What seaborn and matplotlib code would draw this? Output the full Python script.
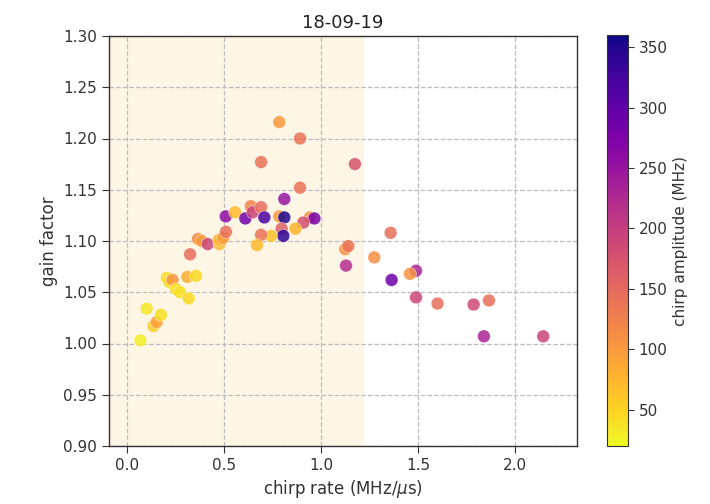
import numpy as np
import pandas as pd
import matplotlib
matplotlib.use("Agg")
import matplotlib.pyplot as plt
import seaborn as sns
from matplotlib.colors import Normalize
from matplotlib.cm import ScalarMappable

# chirp rate (MHz/us), measured gain factor, chirp amplitude (MHz)
chirp_rate = [0.069, 0.101, 0.136, 0.153, 0.175, 0.205, 0.218, 0.235, 0.253, 0.273,
              0.311, 0.318, 0.356, 0.325, 0.366, 0.385, 0.416, 0.476, 0.474, 0.496,
              0.510, 0.509, 0.557, 0.610, 0.638, 0.648, 0.691, 0.708, 0.785, 0.811,
              0.811, 0.943, 0.966, 0.909, 0.868, 0.797, 0.806, 0.742, 0.691, 0.670,
              0.785, 0.892, 0.691, 1.175, 0.892, 1.125, 1.141, 1.129, 1.275, 1.359,
              1.490, 1.459, 1.364, 1.490, 1.601, 1.787, 1.866, 1.840, 2.146]
gain_factor = [1.003, 1.034, 1.017, 1.021, 1.028, 1.064, 1.060, 1.062, 1.053, 1.050,
               1.065, 1.044, 1.066, 1.087, 1.102, 1.100, 1.097, 1.097, 1.101, 1.103,
               1.109, 1.124, 1.128, 1.122, 1.134, 1.128, 1.133, 1.123, 1.124, 1.123,
               1.141, 1.123, 1.122, 1.118, 1.112, 1.112, 1.105, 1.105, 1.106, 1.096,
               1.216, 1.200, 1.177, 1.175, 1.152, 1.092, 1.095, 1.076, 1.084, 1.108,
               1.071, 1.068, 1.062, 1.045, 1.039, 1.038, 1.042, 1.007, 1.007]
chirp_amplitude = [30, 35, 55, 95, 40, 45, 40, 105, 40, 40,
                   80, 45, 45, 145, 115, 100, 190, 70, 75, 100,
                   145, 260, 70, 285, 120, 190, 145, 320, 100, 350,
                   250, 110, 280, 180, 75, 160, 340, 65, 140, 70,
                   100, 140, 140, 175, 140, 110, 140, 220, 110, 145,
                   230, 105, 290, 190, 145, 185, 145, 230, 190]

df = pd.DataFrame({"rate": chirp_rate, "gain": gain_factor, "amp": chirp_amplitude})

amp_min, amp_max = 20, 360
norm = Normalize(vmin=amp_min, vmax=amp_max)
cmap = plt.get_cmap("plasma_r")

sns.set_style("ticks")
plt.rcParams["font.family"] = ["DejaVu Sans"]

fig = plt.figure(figsize=(7.1, 5.04), dpi=100)
ax = fig.add_axes([109 / 710, 1 - 446 / 504, 468 / 710, 410 / 504])
cax = fig.add_axes([607 / 710, 1 - 446 / 504, 21 / 710, 411 / 504])

# highlighted low-rate band
ax.axvspan(-0.2, 1.22, color="#fef6e5", zorder=0, lw=0)

sns.scatterplot(data=df, x="rate", y="gain", hue="amp", palette=cmap,
                hue_norm=norm, s=85, alpha=0.85, edgecolor="white",
                linewidth=0.3, legend=False, ax=ax, zorder=3)

ax.set_xlim(-0.093, 2.32)
ax.set_ylim(0.90, 1.30)
ax.set_xticks([0.0, 0.5, 1.0, 1.5, 2.0])
ax.set_xticklabels(["0.0", "0.5", "1.0", "1.5", "2.0"])
yt = np.arange(0.90, 1.3001, 0.05)
ax.set_yticks(yt)
ax.set_yticklabels([f"{v:.2f}" for v in yt])
ax.grid(True, linestyle="--", color="#bdbdbd", linewidth=0.9, zorder=1)
ax.set_axisbelow(True)
for sp in ax.spines.values():
    sp.set_color("#333333")
    sp.set_linewidth(1.0)
ax.tick_params(labelsize=11, colors="#333333", length=5)
ax.set_xlabel("chirp rate (MHz/$\\mu$s)", fontsize=12, color="#333333")
ax.set_ylabel("gain factor", fontsize=12, color="#333333")
ax.set_title("18-09-19", fontsize=13, color="#222222")

sm = ScalarMappable(norm=norm, cmap=cmap)
cb = fig.colorbar(sm, cax=cax)
cb.set_ticks([50, 100, 150, 200, 250, 300, 350])
cb.ax.tick_params(labelsize=11, colors="#333333", length=4)
cb.set_label("chirp amplitude (MHz)", fontsize=11, color="#333333")
cb.outline.set_edgecolor("#333333")

fig.savefig("out.png", dpi=100)
